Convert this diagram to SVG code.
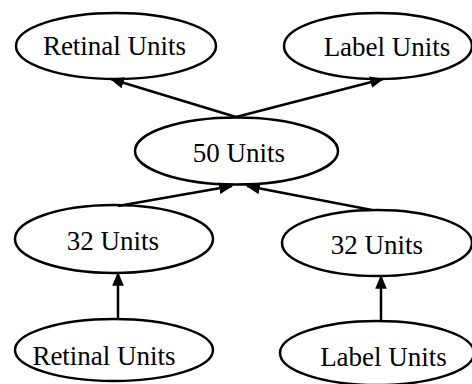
<svg xmlns="http://www.w3.org/2000/svg" width="472" height="384" viewBox="0 0 472 384">
<style>
.n ellipse{fill:#fff;stroke:#000;stroke-width:2.5}
.n text{font-family:"Liberation Serif","Times New Roman",serif;font-size:27px;fill:#000;text-anchor:middle}
.e path{fill:none;stroke:#000;stroke-width:2.5;marker-end:url(#ah)}
</style>
<defs>
<marker id="ah" viewBox="0 0 12 10" refX="11" refY="5" markerWidth="14" markerHeight="12" markerUnits="userSpaceOnUse" orient="auto">
<path d="M0,0 L12,5 L0,10 z" fill="#000"/>
</marker>
</defs>
<g class="n" id="retinal-top"><ellipse cx="116" cy="46" rx="100" ry="33"/><text x="114.5" y="55">Retinal Units</text></g>
<g class="n" id="label-top"><ellipse cx="378" cy="46" rx="94" ry="33"/><text x="387" y="56">Label Units</text></g>
<g class="n" id="units50"><ellipse cx="236.5" cy="151" rx="101.5" ry="33.5"/><text x="239" y="162">50 Units</text></g>
<g class="n" id="units32-left"><ellipse cx="114" cy="239" rx="99" ry="34"/><text x="113" y="250">32 Units</text></g>
<g class="n" id="units32-right"><ellipse cx="377" cy="243" rx="95" ry="33"/><text x="377" y="254">32 Units</text></g>
<g class="n" id="retinal-bottom"><ellipse cx="114" cy="350" rx="99" ry="31"/><text x="104" y="365">Retinal Units</text></g>
<g class="n" id="label-bottom"><ellipse cx="377" cy="353" rx="97" ry="32"/><text x="383.5" y="366">Label Units</text></g>
<g class="e" id="connectors">
<path d="M236,117 L111,79"/>
<path d="M236,117 L383,79"/>
<path d="M118,206 L232,186"/>
<path d="M372,210 L247,186"/>
<path d="M118,319 L118,273"/>
<path d="M381,321 L381,276"/>
</g>
</svg>
